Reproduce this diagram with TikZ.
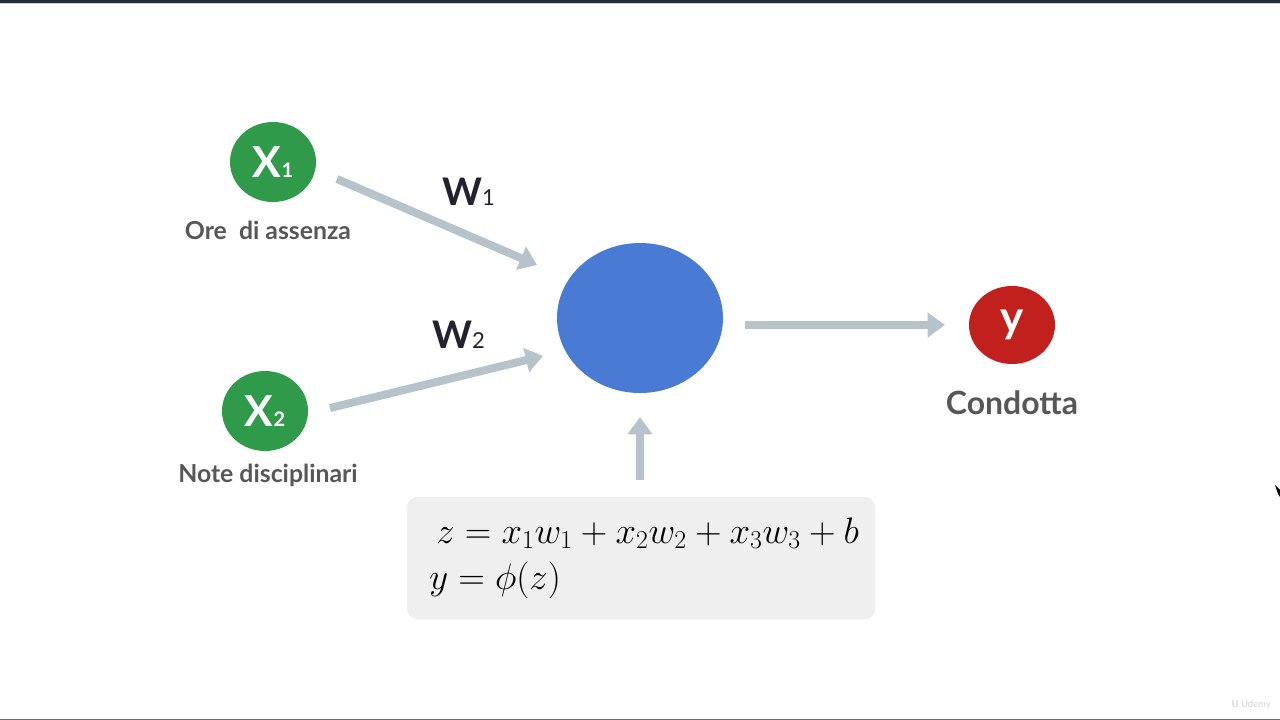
\RequirePackage{fix-cm}
\documentclass[tikz,border=0pt]{standalone}
\usepackage[no-math]{fontspec}
\setmainfont{Lato}
\usetikzlibrary{shapes.geometric,arrows.meta}
\definecolor{topbar}{HTML}{272C37}
\definecolor{topline}{HTML}{C9D3DA}
\definecolor{bottomline}{HTML}{6B6B6B}
\definecolor{nodegreen}{HTML}{2F9B4A}
\definecolor{nodeblue}{HTML}{4A7BD4}
\definecolor{nodered}{HTML}{C1201C}
\definecolor{arrowgray}{HTML}{B6C3CB}
\definecolor{labelgray}{HTML}{575757}
\definecolor{wnavy}{HTML}{23232F}
\definecolor{boxgray}{HTML}{EFEFEF}
\begin{document}
\begin{tikzpicture}[x=0.75pt,y=-0.75pt,
  conn/.style={line width=6pt, draw=arrowgray, -{Triangle[length=13pt,width=18pt]}},
  inputnode/.style={ellipse, fill=nodegreen, minimum width=64.5pt, minimum height=60pt, inner sep=0pt, text=white},
  neuronnode/.style={ellipse, fill=nodeblue, minimum width=124.5pt, minimum height=112.5pt, inner sep=0pt},
  outputnode/.style={ellipse, fill=nodered, minimum width=64.5pt, minimum height=58.5pt, inner sep=0pt, text=white},
  lbl/.style={font=\fontsize{18.6}{20}\selectfont\bfseries, text=labelgray, anchor=base, inner sep=0pt},
  wlbl/.style={text=wnavy, anchor=base west, inner sep=0pt},
  eqn/.style={font=\fontsize{27.6}{32}\selectfont, anchor=base west, inner sep=0pt},
  boxnode/.style={fill=boxgray, rounded corners=7.5pt, minimum width=351pt, minimum height=91.5pt, inner sep=0pt}
]
\fill[white] (0,0) rectangle (1280,720);
\useasboundingbox (0,0) rectangle (1280,720);
\fill[topbar] (0,0) rectangle (1280,3.3);
\fill[topline] (0,3.3) rectangle (1280,4.3);
\fill[bottomline] (0,718.5) rectangle (1280,720);

% input nodes
\node[inputnode] (x1) at (273,162) {{\fontsize{32}{32}\selectfont\bfseries X}{\fontsize{15}{15}\selectfont\bfseries 1}};
\node[lbl] (x1lbl) at (268,239) {Ore\ \ di assenza};
\node[inputnode] (x2) at (265,411) {{\fontsize{32}{32}\selectfont\bfseries X}{\fontsize{15}{15}\selectfont\bfseries 2}};
\node[lbl] (x2lbl) at (268,482) {Note disciplinari};

% neuron
\node[neuronnode] (neuron) at (640,318) {};

% output
\node[outputnode] (y) at (1012,325) {\raisebox{-2pt}{\fontsize{33}{33}\selectfont\bfseries y}};
\node[lbl, font=\fontsize{24}{26}\selectfont\bfseries] (ylbl) at (1012,414) {Condotta};

% weights
\node[wlbl] (w1) at (442,206) {{\fontsize{28.5}{28}\selectfont\bfseries W}{\fontsize{16.5}{16}\selectfont 1}};
\node[wlbl] (w2) at (432,348) {{\fontsize{28.5}{28}\selectfont\bfseries W}{\fontsize{16.5}{16}\selectfont 2}};

% formula box
\node[boxnode] (formula) at (641,558) {};
\node[eqn] (eq1) at (436,543) {$z = x_1w_1 + x_2w_2 + x_3w_3 + b$};
\node[eqn] (eq2) at (429,589) {$y = \phi(z)$};

% connectors
\coordinate (a1s) at (337,179); \coordinate (a1e) at (537,265);
\coordinate (a2s) at (330,408); \coordinate (a2e) at (543,356);
\coordinate (a3s) at (745,325); \coordinate (a3e) at (945,325);
\coordinate (a4s) at (640,480); \coordinate (a4e) at (640,417);
\draw[conn] (a1s) -- (a1e);
\draw[conn] (a2s) -- (a2e);
\draw[conn] (a3s) -- (a3e);
\draw[conn] (a4s) -- (a4e);

% cursor and watermark
\fill[black] (1275,485) -- (1280,490) -- (1280,497) -- (1278,494) -- cycle;
\node[text=black!13, font=\fontsize{7}{7}\selectfont\bfseries, anchor=base west, inner sep=0pt] (udemy) at (1231,707) {{\fontsize{10}{10}\selectfont u}\ Udemy};
\end{tikzpicture}
\end{document}
